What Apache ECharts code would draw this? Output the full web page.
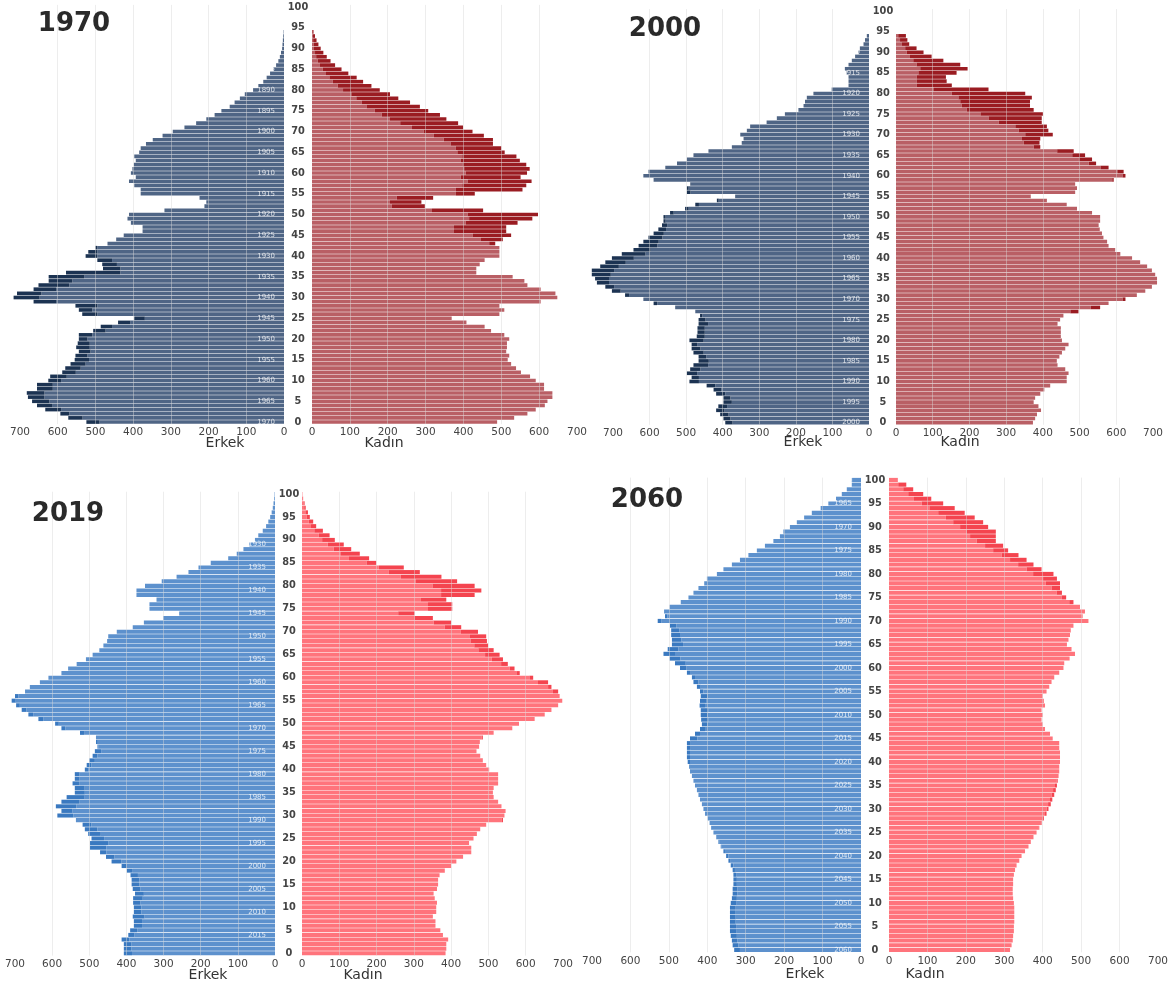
<!DOCTYPE html>
<html><head><meta charset="utf-8">
<script src="https://cdn.jsdelivr.net/npm/echarts@6/dist/echarts.min.js"></script>
<style>html,body{margin:0;padding:0;background:#fff}#c{width:1172px;height:985px}</style>
</head><body><div id="c"></div>
<script>
// Age categories (0..100), tick labels every 5
const ageCats = Array.from({length: 101}, (_, i) => String(i));
const xTicks = [0, 100, 200, 300, 400, 500, 600, 700];

// Population (thousands) by single age, index = age
const m1970 = [524,572,593,633,655,668,679,682,655,655,625,620,588,580,566,555,553,544,551,547,544,544,506,486,440,397,535,544,553,664,717,708,664,651,624,624,578,480,482,495,526,519,500,468,445,425,375,375,406,415,411,317,211,206,224,380,380,397,411,393,406,402,398,393,397,384,380,366,348,322,295,264,233,206,184,166,144,131,117,104,82,68,55,46,37,28,21,15,11,8,5,4,3,2,1];
const f1970 = [489,534,569,591,615,622,635,635,613,613,591,576,552,539,526,517,521,513,515,515,521,508,473,456,408,369,495,508,495,604,648,643,604,569,561,530,434,434,443,456,495,495,495,484,504,526,513,513,543,582,597,452,298,289,320,430,556,566,580,551,568,575,566,549,540,509,500,478,478,454,424,399,386,355,338,307,285,259,228,206,179,157,135,118,96,78,61,49,39,30,23,17,12,8,4];

const m2000 = [393,398,407,418,412,398,398,418,425,444,491,485,498,489,480,466,466,480,485,485,491,471,469,469,466,466,462,475,530,589,617,667,703,721,744,749,758,758,735,721,703,676,644,630,617,603,589,576,566,562,562,544,503,475,416,366,498,498,489,589,617,603,557,525,498,480,439,375,348,343,352,334,325,280,252,230,193,179,175,170,152,102,56,56,56,61,66,56,47,38,29,25,15,11,6];
const f2000 = [373,379,384,395,388,375,379,393,404,420,465,465,470,461,440,438,445,452,461,470,452,449,449,449,440,447,456,497,556,579,625,656,679,697,711,711,706,697,684,665,643,611,597,579,575,565,561,555,552,556,556,534,493,465,411,367,488,493,488,593,625,620,579,545,534,515,484,393,391,393,427,415,411,397,397,400,375,365,365,370,352,252,152,138,136,165,195,175,129,97,75,56,36,31,27];

const m2019 = [407,407,407,413,395,390,380,380,383,380,380,382,382,377,383,386,386,389,399,413,440,455,471,498,498,494,503,512,518,536,586,575,590,575,561,539,539,545,539,539,512,507,500,491,485,478,482,482,525,575,592,637,664,682,697,709,700,673,660,633,610,575,557,534,509,491,473,462,452,449,426,383,353,301,258,338,338,319,373,373,350,305,265,233,206,173,126,103,85,69,54,45,33,24,18,13,9,6,4,2,1];
const f2019 = [385,387,387,392,378,371,358,358,351,360,360,362,356,353,362,365,365,369,383,400,414,432,454,454,448,460,469,478,494,539,543,546,535,526,514,512,514,526,526,526,502,494,485,478,468,475,477,485,514,564,582,624,651,669,687,698,691,687,669,660,620,584,570,552,539,530,514,499,496,494,472,427,400,351,302,403,403,387,463,481,463,416,374,316,273,199,180,155,132,112,88,74,56,38,30,21,16,10,7,3,1];

const m2060 = [330,334,336,339,341,341,341,341,341,341,339,336,334,334,332,332,332,334,339,345,351,358,365,371,377,384,390,394,399,406,410,414,419,423,427,432,436,440,445,447,451,453,453,453,453,445,432,419,414,416,417,417,420,419,417,419,427,436,440,453,471,484,498,514,503,492,492,494,494,497,529,510,512,498,469,449,436,423,408,401,375,358,336,315,293,271,250,228,211,202,185,167,148,128,105,85,65,50,37,24,24];
const f2060 = [315,319,322,323,325,325,326,326,326,326,325,323,322,322,323,323,325,328,332,339,345,354,363,369,376,384,391,397,403,410,415,421,425,430,434,437,439,441,443,443,445,445,445,443,443,426,419,406,400,397,400,397,406,403,400,410,417,423,430,443,454,456,470,484,475,463,467,471,473,480,519,504,510,497,480,461,450,445,445,437,428,397,376,358,337,310,297,278,278,278,258,245,223,197,171,141,110,89,63,45,23];

const years = [1970, 2000, 2019, 2060];
const maleName = 'Erkek', femaleName = 'Kadın';

// ---------- layout / style (not data) ----------
const themeA = {m:'#4f6585', md:'#1c3352', f:'#b95f65', fd:'#9a1c22'};
const themeB = {m:'#5d91cd', md:'#3a79c0', f:'#ff747c', fd:'#f4444f'};
const panels = [
  {year:years[0], m:m1970, f:f1970, th:themeA, mx:20, mw:264, fx:312, fw:265, top:4.9, h:419.2,
   title:[74,24], en:[225,443], kn:[384,443]},
  {year:years[1], m:m2000, f:f2000, th:themeA, mx:613, mw:256, fx:896, fw:257, top:9.1, h:415.6,
   title:[665,29], en:[803,442], kn:[960,442]},
  {year:years[2], m:m2019, f:f2019, th:themeB, mx:15, mw:260, fx:302, fw:261, top:491.7, h:463.9,
   title:[68,514], en:[208,975], kn:[363,975]},
  {year:years[3], m:m2060, f:f2060, th:themeB, mx:592, mw:269, fx:889, fw:269, top:477.6, h:474.7,
   title:[647,500], en:[805,974], kn:[925,974]}
];

const FONT = '"DejaVu Sans", Verdana, sans-serif';
const option = {animation:false, backgroundColor:'#fff', grid:[], xAxis:[], yAxis:[], series:[], graphic:[]};

panels.forEach((p, k) => {
  const n = ageCats.length;
  const mBase = [], mExc = [], fBase = [], fExc = [];
  for (let i = 0; i < n; i++) {
    const mv = p.m[i], fv = p.f[i];
    if (mv == null || fv == null) { mBase.push('-'); mExc.push('-'); fBase.push('-'); fExc.push('-'); continue; }
    const lo = Math.min(mv, fv);
    mBase.push(lo); mExc.push(Math.max(0, mv - fv));
    fBase.push(lo); fExc.push(Math.max(0, fv - mv));
  }
  const gM = 2*k, gF = 2*k + 1;
  option.grid.push({left:p.mx, width:p.mw, top:p.top, height:p.h, containLabel:false, outerBoundsMode:'none'});
  option.grid.push({left:p.fx, width:p.fw, top:p.top, height:p.h, containLabel:false, outerBoundsMode:'none'});
  const xa = (g, inv) => ({
    gridIndex:g, type:'value', min:0, max:700, interval:100, inverse:inv, z:3,
    axisLine:{show:false}, axisTick:{show:false},
    splitLine:{show:true, showMinLine:false, showMaxLine:false, lineStyle:{color:'rgba(215,215,215,0.45)', width:1}},
    axisLabel:{margin:3, fontSize:10.5, color:'#444', fontFamily:FONT, customValues: xTicks}
  });
  option.xAxis.push(xa(gM, true), xa(gF, false));
  // age labels (centre column)
  option.yAxis.push({gridIndex:gM, type:'category', data:ageCats, position:'right',
    axisLine:{show:false, onZero:false}, axisTick:{show:false}, splitLine:{show:false},
    axisLabel:{interval:4, margin:14, align:'center', fontSize:9.8, fontWeight:'bold', color:'#444', fontFamily:FONT}});
  // birth-year labels inside male bars (cohort years that are multiples of 5)
  option.yAxis.push({gridIndex:gM, type:'category', data:ageCats, position:'right', z:4,
    axisLine:{show:false, onZero:false}, axisTick:{show:false}, splitLine:{show:false},
    axisLabel:{inside:true, interval:0, margin:9, fontSize:7, color:'rgba(255,255,255,0.78)', fontFamily:FONT,
      formatter: v => { const y = p.year - Number(v); return y % 5 === 0 ? String(y) : ''; }}});
  option.yAxis.push({gridIndex:gF, type:'category', data:ageCats, show:false,
    axisLine:{show:false, onZero:false}});
  const bar = (xi, yi, stack, data, color) => ({
    type:'bar', xAxisIndex:xi, yAxisIndex:yi, stack, data, barCategoryGap:'12%', silent:true, clip:false,
    itemStyle:{color}
  });
  option.series.push(
    bar(gM, 3*k, 'm'+k, mBase, p.th.m),
    bar(gM, 3*k, 'm'+k, mExc, p.th.md),
    bar(gF, 3*k+2, 'f'+k, fBase, p.th.f),
    bar(gF, 3*k+2, 'f'+k, fExc, p.th.fd)
  );
  option.graphic.push(
    {type:'text', x:p.title[0], y:p.title[1], z:10,
     style:{text:String(p.year), align:'center', verticalAlign:'middle', font:'bold 26px ' + FONT, fill:'#2a2a2a'}},
    {type:'text', x:p.en[0], y:p.en[1], z:10,
     style:{text:maleName, align:'center', verticalAlign:'middle', font:'14px ' + FONT, fill:'#333'}},
    {type:'text', x:p.kn[0], y:p.kn[1], z:10,
     style:{text:femaleName, align:'center', verticalAlign:'middle', font:'14px ' + FONT, fill:'#333'}}
  );
});

const chart = echarts.init(document.getElementById('c'), null, {renderer:'canvas'});
chart.setOption(option);
</script>
</body></html>
